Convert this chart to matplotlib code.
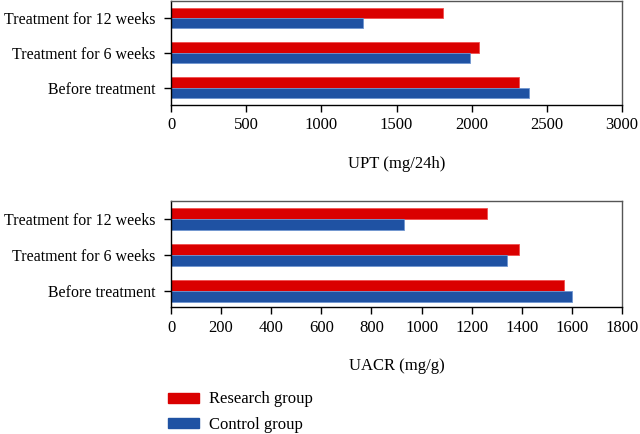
import matplotlib
matplotlib.use("Agg")
import matplotlib.pyplot as plt
from matplotlib.patches import Patch
import numpy as np

plt.rcParams['font.family'] = ['Liberation Serif', 'DejaVu Serif']
plt.rcParams['font.size'] = 12

categories = ["Before treatment", "Treatment for 6 weeks", "Treatment for 12 weeks"]
upt_research = [2313, 2046, 1809]
upt_control = [2384, 1990, 1275]
uacr_research = [1567, 1387, 1261]
uacr_control = [1600, 1339, 928]
upt_ticks = [0, 500, 1000, 1500, 2000, 2500, 3000]
uacr_ticks = [0, 200, 400, 600, 800, 1000, 1200, 1400, 1600, 1800]

red = "#DA0000"
blue = "#1F52A3"
red_edge = "#F05050"
blue_edge = "#6F95D0"

fig = plt.figure(figsize=(6.4, 4.34), dpi=100)
ax1 = fig.add_axes([0.2672, 0.7581, 0.7047, 0.2396])
ax2 = fig.add_axes([0.2672, 0.2926, 0.7047, 0.2442])

h = 0.3
y = np.arange(len(categories))

def draw(ax, res, ctl, ticks, xlabel, ylim, labelpad):
    ax.barh(y + h / 2, res, height=h, color=red, edgecolor=red_edge, linewidth=0.6)
    ax.barh(y - h / 2, ctl, height=h, color=blue, edgecolor=blue_edge, linewidth=0.6)
    ax.set_yticks(y)
    ax.set_yticklabels(categories, fontsize=11.4)
    ax.set_xticks(ticks)
    ax.set_xlim(ticks[0], ticks[-1])
    ax.set_ylim(*ylim)
    ax.set_xlabel(xlabel, labelpad=labelpad)
    for s in ["top", "right"]:
        ax.spines[s].set_color("#555555")
        ax.spines[s].set_linewidth(1.0)
    for s in ["left", "bottom"]:
        ax.spines[s].set_color("black")
        ax.spines[s].set_linewidth(1.0)
    ax.tick_params(axis="y", length=5, width=1, pad=6)
    ax.tick_params(axis="x", length=5, width=1, pad=4)

draw(ax1, upt_research, upt_control, upt_ticks, "UPT (mg/24h)", (-0.486, 2.486), 16)
draw(ax2, uacr_research, uacr_control, uacr_ticks, "UACR (mg/g)", (-0.45, 2.5), 16)

handles = [Patch(facecolor=red, edgecolor=red), Patch(facecolor=blue, edgecolor=blue)]
fig.legend(handles, ["Research group", "Control group"], loc="upper left",
           bbox_to_anchor=(0.262, 0.098), frameon=False, handlelength=1.86,
           handleheight=0.54, handletextpad=0.6, labelspacing=0.58, fontsize=12,
           borderaxespad=0, borderpad=0)

fig.savefig("out.png", dpi=100)
